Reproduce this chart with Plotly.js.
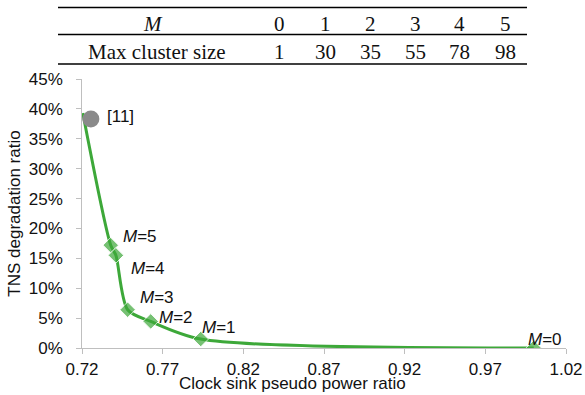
<!DOCTYPE html>
<html><head><meta charset="utf-8">
<script src="https://cdn.plot.ly/plotly-3.0.1.min.js"></script>
<style>html,body{margin:0;padding:0;background:#fff}#chart{width:585px;height:395px}</style>
</head><body><div id="chart"></div>
<script>
// ---- data ----
const tableM = ['0','1','2','3','4','5'];
const maxClusterSize = ['1','30','35','55','78','98'];
const curveX = [0.7205, 0.7378, 0.7410, 0.7483, 0.7626, 0.7936, 1.000];
const curveY = [0.393, 0.172, 0.155, 0.064, 0.0445, 0.015, 0.000];
const curveLabels = ['', 'M=5', 'M=4', 'M=3', 'M=2', 'M=1', 'M=0'];
const refX = [0.7255];
const refY = [0.383];
const refLabel = ['[11]'];

// ---- layout helpers ----
const W = 585, H = 395;
const mL = 82, mR = 19, mT = 79, mB = 47;
const pw = W - mL - mR, ph = H - mT - mB;
const px = p => (p - mL) / pw;
const py = p => (H - mB - p) / ph;

const green = '#3DA839';
const annotations = [];
const shapes = [];

// table
const serif = {family: 'Liberation Serif, DejaVu Serif, serif', size: 21, color: '#111'};
[7.5, 34.5, 64].forEach(yy => shapes.push({type:'line', xref:'paper', yref:'paper',
  x0: px(58), x1: px(527), y0: py(yy), y1: py(yy), line:{color:'#000', width:1.3}}));
const row1 = 24, row2 = 51.5;
annotations.push({xref:'paper', yref:'paper', x: px(153), y: py(row1), text:'<i>M</i>', showarrow:false, font:serif, xanchor:'center', yanchor:'middle'});
annotations.push({xref:'paper', yref:'paper', x: px(157), y: py(row2), text:'Max cluster size', showarrow:false, font:serif, xanchor:'center', yanchor:'middle'});
const colX = [279, 325, 370, 415, 459, 505];
tableM.forEach((m, i) => {
  annotations.push({xref:'paper', yref:'paper', x: px(colX[i]), y: py(row1), text:m, showarrow:false, font:serif, xanchor:'center', yanchor:'middle'});
  annotations.push({xref:'paper', yref:'paper', x: px(colX[i]), y: py(row2), text:maxClusterSize[i], showarrow:false, font:serif, xanchor:'center', yanchor:'middle'});
});

// point labels (dx, dy in screen pixels; dy positive = down)
const lblFont = {family:'Liberation Sans, Arial, sans-serif', size:17, color:'#111'};
const lblOff = [null, [10,-9], [13,13], [10,-12], [6,-4], [-1,-12], [-8,-9]];
curveLabels.forEach((t, i) => {
  if (!t) return;
  const parts = t.split('=');
  annotations.push({x: curveX[i], y: curveY[i], text:'<i>'+parts[0]+'</i>='+parts[1], showarrow:false,
    xanchor:'left', yanchor:'middle', xshift: lblOff[i][0], yshift: -lblOff[i][1], font: lblFont});
});
annotations.push({x: refX[0], y: refY[0], text: refLabel[0], showarrow:false, xanchor:'left', yanchor:'middle',
  xshift: 14, yshift: 3, font: lblFont});

// x axis title as annotation (offset left as in reference)
annotations.push({xref:'paper', yref:'paper', x: px(292), y: py(394), text:'Clock sink pseudo power ratio',
  showarrow:false, xanchor:'center', yanchor:'bottom', borderpad:0,
  font:{family:'Liberation Sans, Arial, sans-serif', size:17, color:'#111'}});

const traces = [
  {x: curveX, y: curveY, mode:'lines+markers', type:'scatter',
   line:{color: green, width:3, shape:'spline', smoothing:0.8},
   marker:{symbol:'diamond', size: curveX.map((_, i) => i === 0 ? 0 : 12), color: green},
   hoverinfo:'skip', showlegend:false},
  {x: refX, y: refY, mode:'markers', type:'scatter',
   marker:{symbol:'circle', size:17, color:'#8a8a8a'}, hoverinfo:'skip', showlegend:false}
];

const axisFont = {family:'Liberation Sans, Arial, sans-serif', size:17, color:'#111'};
const layout = {
  width: W, height: H,
  margin: {l: mL, r: mR, t: mT, b: mB, pad: 0},
  paper_bgcolor:'#fff', plot_bgcolor:'#fff',
  xaxis: {range:[0.72, 1.02], tick0:0.72, dtick:0.05, tickformat:'.2f', showgrid:false, zeroline:false,
    showline:true, linecolor:'#bfbfbf', linewidth:1.3, ticks:'outside', ticklen:5, tickcolor:'#bfbfbf',
    tickfont: axisFont, fixedrange:true},
  yaxis: {range:[0, 0.45], dtick:0.05, tickformat:'.0%', ticksuffix:'\u00a0\u00a0', showgrid:false, zeroline:false,
    showline:true, linecolor:'#bfbfbf', linewidth:1.3, ticks:'outside', ticklen:5, tickcolor:'#bfbfbf',
    tickfont: axisFont, fixedrange:true,
    title:{text:'TNS degradation ratio', font: axisFont, standoff: 4}},
  annotations, shapes,
  font:{family:'Liberation Sans, Arial, sans-serif'}
};
Plotly.newPlot('chart', traces, layout, {displayModeBar:false, staticPlot:true});
</script></body></html>
